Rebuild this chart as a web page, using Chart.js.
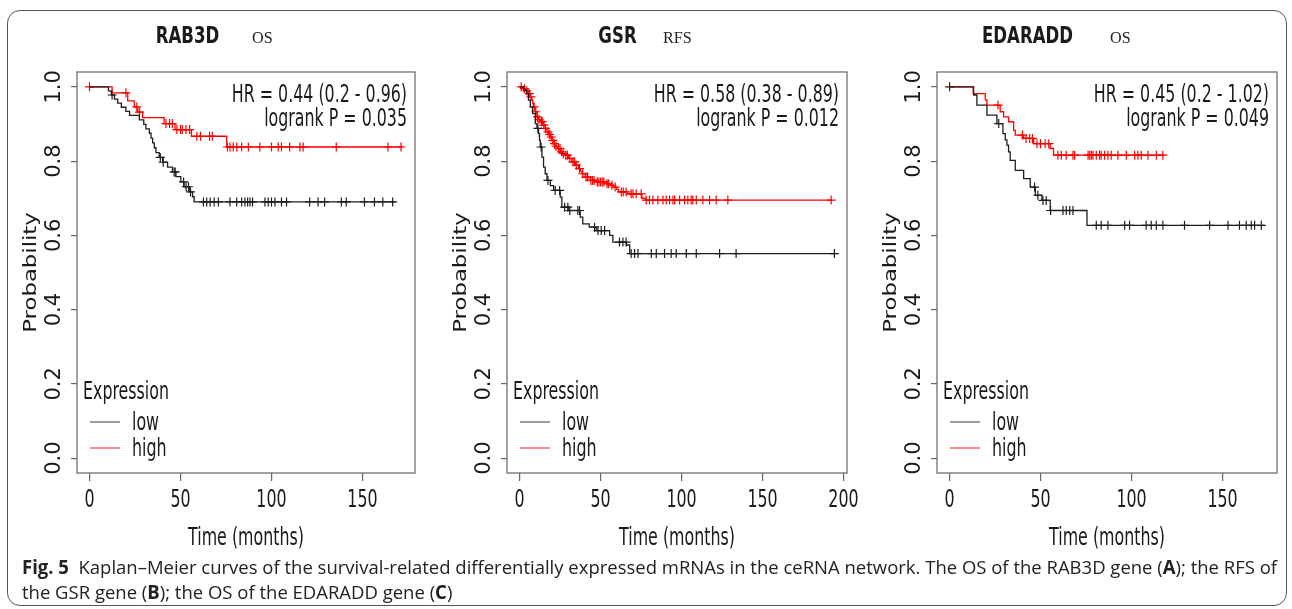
<!DOCTYPE html>
<html>
<head>
<meta charset="utf-8">
<script src="https://cdn.jsdelivr.net/npm/chart.js@4.4.1/dist/chart.umd.min.js"></script>
<style>
  body { margin: 0; background: #fff; }
  #page { position: relative; width: 1292px; height: 609px; background: #fff; overflow: hidden; }
  #page canvas { position: absolute; left: 0; top: 0; }
  .frame { position: absolute; left: 7px; top: 10px; width: 1280px; height: 596px; box-sizing: border-box;
           border: 1.5px solid #555; border-radius: 13px; }
  .cap { position: absolute; left: 22px; white-space: nowrap; font-family: 'Open Sans', sans-serif; font-size: 19px;
         line-height: 25px; color: #222; transform-origin: 0 50%; }
</style>
</head>
<body>
<div id="page">
  <div class="frame"></div>
  <canvas id="cA" width="1292" height="609"></canvas>
  <canvas id="cB" width="1292" height="609"></canvas>
  <canvas id="cC" width="1292" height="609"></canvas>
  <div class="cap" id="cap1" style="top:555px"><b>Fig. 5</b>&nbsp; Kaplan–Meier curves of the survival-related differentially expressed mRNAs in the ceRNA network. The OS of the RAB3D gene (<b>A</b>); the RFS of</div>
  <div class="cap" id="cap2" style="top:580px">the GSR gene (<b>B</b>); the OS of the EDARADD gene (<b>C</b>)</div>
</div>
<script>
// shared axis ticks
const yTicks = [0, 0.2, 0.4, 0.6, 0.8, 1.0];
const yTickLabels = ['0.0', '0.2', '0.4', '0.6', '0.8', '1.0'];
const xTicks150 = [0, 50, 100, 150];
const xTickLabels150 = ['0', '50', '100', '150'];
const xTicks200 = [0, 50, 100, 150, 200];
const xTickLabels200 = ['0', '50', '100', '150', '200'];
const groupLabels = ['low', 'high'];

// A: RAB3D OS  (step times in months, survival after the step)
const aLowT = [0, 10.4, 12, 13.7, 15.5, 17.5, 20, 22, 27.4, 29.8, 31, 32.9, 33.8, 34.7, 35.6, 36.5, 38.3, 40.2, 42.9, 45.6, 47.5, 50.2, 52, 54.8, 56.6, 57.5];
const aLowS = [1, 0.989, 0.978, 0.967, 0.956, 0.945, 0.934, 0.923, 0.911, 0.899, 0.887, 0.875, 0.862, 0.849, 0.836, 0.823, 0.810, 0.797, 0.784, 0.771, 0.758, 0.744, 0.731, 0.717, 0.704, 0.690];
const aLowEnd = 168;
const aLowCens = [12.4, 38.9, 40.5, 46.5, 47.1, 51.7, 53.1, 54.4, 55.5, 62.6, 64.4, 66.3, 68.5, 70.8, 77.2, 80.9, 83.6, 85.4, 86.9, 88.2, 89.6, 96.4, 98.2, 100, 101.9, 105.5, 108.3, 121, 125.6, 129.2, 138.4, 141.1, 151.1, 156.6, 161.2, 166.6];
const aHighT = [0, 12.4, 21, 24.6, 26.5, 29.2, 41, 47, 56, 75.4];
const aHighS = [1, 0.984, 0.962, 0.946, 0.932, 0.917, 0.901, 0.885, 0.867, 0.838];
const aHighEnd = 172;
const aHighCens = [0, 20, 26, 27.5, 42, 44, 45.5, 48, 50, 51, 53, 55, 59, 61, 66, 67.5, 75.8, 77.2, 79, 80.9, 83.6, 87.3, 93.6, 100, 103.7, 105.5, 110, 115.6, 117.4, 135.6, 164, 171.2];

// B: GSR RFS
const bLowT = [0, 2.5, 4.5, 5.5, 6.6, 8, 9.7, 10.7, 11.7, 12.3, 12.8, 13.8, 14.8, 15.8, 16.9, 19, 21, 25.1, 26.1, 30, 37.4, 39, 43, 47.3, 55.6, 57.6, 66, 68];
const bLowS = [1, 0.991, 0.982, 0.964, 0.946, 0.928, 0.901, 0.888, 0.874, 0.856, 0.838, 0.811, 0.784, 0.766, 0.748, 0.734, 0.721, 0.703, 0.676, 0.667, 0.649, 0.631, 0.622, 0.613, 0.600, 0.582, 0.574, 0.551];
const bLowEnd = 194.4;
const bLowCens = [11.3, 13.3, 17.5, 22, 24.7, 27.8, 29.8, 31, 36, 37, 46.3, 48.4, 50.4, 52.5, 61.7, 63.8, 65.8, 68.9, 71, 73.1, 81.3, 84.4, 89.5, 93.6, 96.7, 102.9, 109.1, 123.5, 133.7, 194.4];
const bHighT = [0, 2, 4, 5.6, 6.5, 7.6, 8.1, 8.6, 9.5, 10.7, 11.8, 12.8, 14.8, 15.8, 16.9, 18, 19, 20, 21, 22, 23.1, 25.1, 26.5, 28.2, 30.2, 32.3, 34.4, 36.4, 37.5, 38.5, 40.5, 43.6, 47.7, 53.9, 56, 58, 60, 61.1, 66.3, 75.5, 77.6];
const bHighS = [1, 0.995, 0.989, 0.982, 0.973, 0.964, 0.955, 0.946, 0.933, 0.919, 0.912, 0.906, 0.897, 0.888, 0.879, 0.872, 0.865, 0.856, 0.847, 0.840, 0.834, 0.825, 0.820, 0.816, 0.807, 0.798, 0.789, 0.780, 0.773, 0.766, 0.757, 0.748, 0.744, 0.739, 0.735, 0.730, 0.724, 0.717, 0.712, 0.700, 0.695];
const bHighEnd = 192.4;
const bHighCens = [1, 3, 4.5, 6, 7, 9, 10, 11, 12, 13.5, 14, 15, 16, 17.5, 18.5, 19.5, 20.5, 21.5, 22.5, 24, 25, 26, 27, 28.5, 29.5, 31, 33, 34, 35, 37, 39, 41, 42, 44, 45, 46, 48, 49, 50, 51, 52, 54, 55, 57, 59, 62.8, 64, 65.8, 68.9, 70, 72, 75.1, 78.2, 80.2, 82.3, 85.4, 88.5, 90.5, 92.6, 94.7, 95.7, 98.8, 101.9, 103.9, 106, 107, 109.1, 113.2, 117.3, 121.4, 128.6, 192.4];

// C: EDARADD OS
const cLowT = [0, 13.2, 15, 20.5, 26, 29.3, 30.6, 31.5, 32.4, 33.3, 36.1, 40.7, 44.3, 47.1, 50.7, 55.3, 75.5];
const cLowS = [1, 0.978, 0.951, 0.924, 0.901, 0.874, 0.857, 0.843, 0.825, 0.802, 0.775, 0.753, 0.730, 0.708, 0.694, 0.667, 0.627];
const cLowEnd = 173;
const cLowCens = [0, 27, 46.7, 48.5, 51.3, 53.1, 55.5, 62.3, 64.1, 66, 67.8, 80.6, 83.3, 87, 96.2, 98.9, 108, 110.8, 113.6, 117.2, 129.1, 142.9, 153, 159.3, 163, 165.8, 167.6, 171.3];
const cHighT = [0, 13, 19.6, 20.5, 27.8, 29.7, 32.4, 35.2, 36.1, 40.7, 46.2, 55.3, 57.1];
const cHighS = [1, 0.982, 0.965, 0.951, 0.933, 0.919, 0.906, 0.883, 0.870, 0.861, 0.847, 0.834, 0.816];
const cHighEnd = 118.2;
const cHighCens = [26.6, 40, 42, 44, 45.5, 48, 50, 52.5, 54.5, 59.5, 61.4, 64.1, 67.8, 68.7, 76.1, 77, 77.9, 78.8, 80.6, 82.4, 83.3, 85.2, 87, 88.8, 92.5, 97.1, 101.7, 103.5, 105.3, 109, 113.6, 117.2];

const lowColor = '#1e1e1e';
const highColor = '#ff0000';

// panel layout (plot box in page pixels) + texts
const panels = [
  { id: 'cA', gene: 'RAB3D', kind: 'OS', hr: 'HR = 0.44 (0.2 - 0.96)', p: 'logrank P = 0.035',
    box: [77, 72, 415, 473], geneX: 110.5, kindX: 175, xTicks: xTicks150, xLabels: xTickLabels150,
    low: [aLowT, aLowS, aLowEnd, aLowCens], high: [aHighT, aHighS, aHighEnd, aHighCens] },
  { id: 'cB', gene: 'GSR', kind: 'RFS', hr: 'HR = 0.58 (0.38 - 0.89)', p: 'logrank P = 0.012',
    box: [507, 72, 847, 473], geneX: 110.5, kindX: 156, xTicks: xTicks200, xLabels: xTickLabels200,
    low: [bLowT, bLowS, bLowEnd, bLowCens], high: [bHighT, bHighS, bHighEnd, bHighCens] },
  { id: 'cC', gene: 'EDARADD', kind: 'OS', hr: 'HR = 0.45 (0.2 - 1.02)', p: 'logrank P = 0.049',
    box: [937, 72, 1277, 473], geneX: 90.5, kindX: 173, xTicks: xTicks150, xLabels: xTickLabels150,
    low: [cLowT, cLowS, cLowEnd, cLowCens], high: [cHighT, cHighS, cHighEnd, cHighCens] }
];
const panelById = {};
panels.forEach(p => { panelById[p.id] = p; });

function kmLine(t, s, end){
    let pts = t.map((v, i) => ({x: v, y: s[i]}));
    pts.push({x: end, y: s[s.length - 1]});
    return pts;
}
function survAt(t, s, x){
    let v = s[0];
    for(let i = 0; i < t.length; i++){
        if(t[i] <= x) v = s[i];
    }
    return v;
}
function censPts(t, s, c){
    return c.map(x => ({x: x, y: survAt(t, s, x)}));
}

// text with a horizontal squeeze, like the resampled R figure
function txt(ctx, s, x, y, o){
    ctx.save();
    ctx.translate(x, y);
    if(o.rot) ctx.rotate(o.rot);
    ctx.scale(o.sx || 1, o.sy || 1);
    ctx.font = o.font;
    ctx.fillStyle = o.color || '#1a1a1a';
    ctx.textAlign = o.align || 'left';
    ctx.textBaseline = o.base || 'alphabetic';
    ctx.fillText(s, 0, 0);
    ctx.restore();
}
const SANS = '"DejaVu Sans", "Liberation Sans", sans-serif';

const rPlot = {
    id: 'rPlot',
    afterDraw(chart){
        const p = panelById[chart.canvas.id];
        const ctx = chart.ctx;
        const a = chart.chartArea;
        const xs = chart.scales.x, ys = chart.scales.y;
        // box
        ctx.save();
        ctx.strokeStyle = '#707070';
        ctx.lineWidth = 1.3;
        ctx.strokeRect(a.left, a.top, a.right - a.left, a.bottom - a.top);
        ctx.restore();
        // tick labels
        ys.ticks.forEach((tk, i) => {
            txt(ctx, yTickLabels[i], a.left - 22, ys.getPixelForValue(tk.value),
                {font: '21px ' + SANS, rot: -Math.PI / 2, align: 'center', base: 'middle'});
        });
        xs.ticks.forEach((tk, i) => {
            txt(ctx, p.xLabels[i], xs.getPixelForValue(tk.value), 507,
                {font: '24px ' + SANS, sx: 0.66, align: 'center'});
        });
        // axis titles
        txt(ctx, 'Time (months)', (a.left + a.right) / 2, 545, {font: '24px ' + SANS, sx: 0.66, align: 'center'});
        txt(ctx, 'Probability', a.left - 46, (a.top + a.bottom) / 2,
            {font: '24px ' + SANS, rot: -Math.PI / 2, sx: 0.95, sy: 0.75, align: 'center', base: 'middle'});
        // title
        txt(ctx, p.gene, a.left + p.geneX, 43, {font: 'bold 23px ' + SANS, sx: 0.72, align: 'center'});
        txt(ctx, p.kind, a.left + p.kindX, 42.5, {font: '17px "Liberation Serif", "DejaVu Serif", serif', sx: 0.95, color: '#222'});
        // HR and logrank
        txt(ctx, p.hr, a.right - 8, 101.5, {font: '24px ' + SANS, sx: 0.66, align: 'right'});
        txt(ctx, p.p, a.right - 8, 125.5, {font: '24px ' + SANS, sx: 0.66, align: 'right'});
        // legend
        txt(ctx, 'Expression', a.left + 6, 393, {font: '24px ' + SANS, sx: 0.66, base: 'middle'});
        const legCols = ['#6a6a6a', '#ff5050'];
        groupLabels.forEach((lab, i) => {
            const ly = 422 + i * 26;
            ctx.save();
            ctx.strokeStyle = legCols[i];
            ctx.lineWidth = 1.3;
            ctx.beginPath();
            ctx.moveTo(a.left + 13, ly);
            ctx.lineTo(a.left + 43, ly);
            ctx.stroke();
            ctx.restore();
            txt(ctx, lab, a.left + 55, ly + 2, {font: '24px ' + SANS, sx: 0.66, base: 'middle'});
        });
    }
};

function makeChart(p){
    const maxT = Math.max(p.low[2], p.high[2]);
    const ctx = document.getElementById(p.id).getContext('2d');
    const groups = [p.low, p.high];
    const cols = [lowColor, highColor];
    let datasets = [];
    groups.forEach((g, i) => {
        datasets.push({
            label: groupLabels[i],
            data: kmLine(g[0], g[1], g[2]),
            showLine: true,
            stepped: 'before',
            borderColor: cols[i],
            borderWidth: 1.3,
            pointRadius: 0
        });
    });
    groups.forEach((g, i) => {
        datasets.push({
            label: groupLabels[i] + ' censored',
            data: censPts(g[0], g[1], g[3]),
            showLine: false,
            pointStyle: 'cross',
            pointRadius: 4.5,
            pointBorderWidth: 1.2,
            pointBorderColor: cols[i],
            pointBackgroundColor: cols[i]
        });
    });
    const grid = (len) => ({display: true, drawOnChartArea: false, drawTicks: true, tickLength: len, color: '#666', lineWidth: 1.2});
    let config = {
        type: 'scatter',
        data: {datasets: datasets},
        options: {
            responsive: false,
            animation: false,
            events: [],
            layout: {
                autoPadding: false,
                padding: {left: p.box[0], top: p.box[1], right: 1292 - p.box[2], bottom: 609 - p.box[3]}
            },
            plugins: {legend: {display: false}, tooltip: {enabled: false}},
            scales: {
                x: {
                    type: 'linear', min: -0.04 * maxT, max: 1.04 * maxT,
                    ticks: {display: false},
                    grid: grid(8),
                    border: {display: false},
                    afterBuildTicks: s => { s.ticks = p.xTicks.map(v => ({value: v})); },
                    afterFit: s => { s.height = 0; }
                },
                y: {
                    type: 'linear', min: -0.04, max: 1.04,
                    ticks: {display: false},
                    grid: grid(6),
                    border: {display: false},
                    afterBuildTicks: s => { s.ticks = yTicks.map(v => ({value: v})); },
                    afterFit: s => { s.width = 0; }
                }
            }
        },
        plugins: [rPlot]
    };
    return new Chart(ctx, config);
}

panels.forEach(p => makeChart(p));

// squeeze the caption to the reference line width
const cap1 = document.getElementById('cap1');
const cap2 = document.getElementById('cap2');
const sc = 1255 / cap1.getBoundingClientRect().width;
cap1.style.transform = 'scaleX(' + sc + ')';
cap2.style.transform = 'scaleX(' + sc + ')';
</script>
</body>
</html>
